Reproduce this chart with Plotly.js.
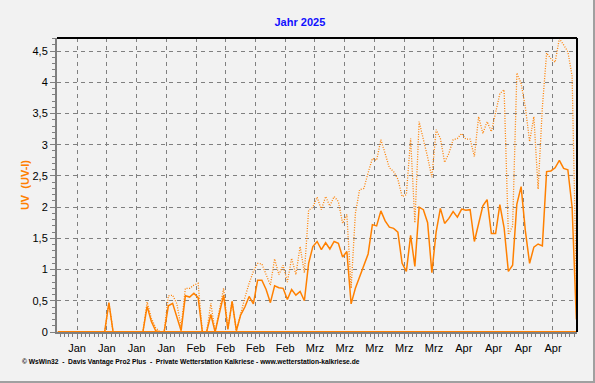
<!DOCTYPE html>
<html>
<head>
<meta charset="utf-8">
<script src="https://cdn.plot.ly/plotly-3.0.1.min.js"></script>
<style>
  html, body { margin: 0; padding: 0; background: #f2f2f2; }
  #wrap { position: relative; width: 595px; height: 383px; }
  #chart { width: 595px; height: 383px; }
  #frame { position: absolute; left: 0; top: 0; width: 595px; height: 383px; box-sizing: border-box;
           border-right: 2px solid #a0a0a0; border-bottom: 2px solid #a0a0a0; pointer-events: none; }
</style>
</head>
<body>
<div id="wrap"><div id="chart"></div><div id="frame"></div></div>
<script>
// Daily values from 2025-01-01 to 2025-05-03
const startDate = '2025-01-01';
const uvAvg = [
  0,0,0,0,0,0,0,0,0,0,
  0,0,0.47,0,0,0,0,0,0,0,
  0,0.41,0.17,0.02,0,0,0.42,0.46,0.22,0.02,
  0.58,0.56,0.62,0.55,0,0,0.28,0,0.3,0.59,
  0.04,0.49,0.02,0.27,0.4,0.57,0.45,0.83,0.83,0.68,
  0.47,0.74,0.71,0.7,0.52,0.68,0.59,0.65,0.5,1.1,
  1.37,1.45,1.32,1.43,1.33,1.45,1.42,1.2,1.29,0.45,
  0.7,0.89,1.05,1.25,1.72,1.7,1.94,1.78,1.68,1.66,
  1.6,1.1,0.97,1.55,1.05,2.0,1.96,1.75,0.95,1.6,
  1.98,1.74,1.82,1.93,1.84,1.97,1.95,1.96,1.45,1.73,
  2.02,2.12,1.58,1.58,2.04,1.67,0.97,1.07,2.05,2.33,
  1.62,1.1,1.36,1.41,1.38,2.57,2.58,2.63,2.75,2.62,
  2.6,2.0,0.2
];
const uvMax = [
  0,0,0,0,0,0,0,0,0,0,
  0,0,0.47,0,0,0,0,0,0,0,
  0,0.48,0.22,0.07,0,0,0.58,0.59,0.45,0.08,
  0.7,0.7,0.75,0.78,0,0,0.46,0,0.35,0.7,
  0.05,0.49,0.02,0.3,0.55,0.78,0.97,1.1,1.09,0.92,
  0.75,1.17,0.92,1.07,0.8,1.18,0.92,1.37,0.95,1.95,
  2.0,2.16,1.96,2.17,2.02,2.17,2.09,1.74,1.88,0.7,
  1.9,2.28,2.3,2.55,2.78,2.75,3.08,2.86,2.63,2.57,
  2.45,2.17,2.2,3.1,1.75,3.37,3.1,2.8,2.48,3.24,
  3.1,2.72,2.86,3.08,3.1,3.18,3.09,3.09,2.81,3.45,
  3.18,3.37,3.21,3.52,3.82,3.88,1.56,1.7,4.15,3.98,
  3.6,3.05,3.45,2.29,3.6,4.47,4.38,4.32,4.7,4.6,
  4.49,4.1,0.7
];
const uvMin = [
  0,0,0,0,0,0,0,0,0,0, 0,0,0,0,0,0,0,0,0,0,
  0,0,0,0,0,0,0,0,0,0, 0,0,0,0,0,0,0,0,0,0,
  0,0,0,0,0,0,0,0,0,0, 0,0,0,0,0,0,0,0,0,0,
  0,0,0,0,0,0,0,0,0,0, 0,0,0,0,0,0,0,0,0,0,
  0,0,0,0,0,0,0,0,0,0, 0,0,0,0,0,0,0,0,0,0,
  0,0,0,0,0,0,0,0,0,0, 0,0,0,0,0,0,0,0,0,0,
  0,0,0
];
const tickDates = ['2025-01-06','2025-01-13','2025-01-20','2025-01-27',
  '2025-02-03','2025-02-10','2025-02-17','2025-02-24',
  '2025-03-03','2025-03-10','2025-03-17','2025-03-24','2025-03-31',
  '2025-04-07','2025-04-14','2025-04-21','2025-04-28'];
const tickLabels = ['Jan','Jan','Jan','Jan','Feb','Feb','Feb','Feb',
  'Mrz','Mrz','Mrz','Mrz','Mrz','Apr','Apr','Apr','Apr'];

function pad(n){ return (n<10?'0':'')+n; }
const t0 = Date.parse(startDate + 'T12:00:00Z');
const days = uvAvg.map((_, i) => {
  const d = new Date(t0 + i*86400000);
  return d.getUTCFullYear()+'-'+pad(d.getUTCMonth()+1)+'-'+pad(d.getUTCDate())+' 12:00';
});

const orange = '#ff8000';
const grid = '#808080';
const font = 'Liberation Sans, Arial, sans-serif';

const traces = [
  {x: days, y: uvMin, type:'scatter', mode:'lines', line:{color: orange, width:2}, hoverinfo:'skip'},
  {x: days, y: uvMax, type:'scatter', mode:'lines', line:{color: orange, width:1.3, dash:'1px,1.5px'}},
  {x: days, y: uvAvg, type:'scatter', mode:'lines', line:{color: orange, width:1.5}}
];

const layout = {
  width: 595, height: 383,
  paper_bgcolor: '#f2f2f2', plot_bgcolor: '#f2f2f2',
  margin: {l: 57, r: 18, t: 38, b: 51, pad: 0},
  showlegend: false,
  separators: ',.',
  font: {family: font, size: 11, color: '#000'},
  title: {text: '<b>Jahr 2025</b>', font: {family: font, size: 11, color: '#1010ff'},
          xref: 'container', x: 0.504, xanchor: 'center', yref: 'container', y: 0.943, yanchor: 'middle'},
  xaxis: {
    type: 'date',
    range: ['2025-01-01 07:03', '2025-05-03 15:36'],
    tickmode: 'array', tickvals: tickDates, ticktext: tickLabels,
    ticks: 'outside', ticklen: 5, tickcolor: grid, tickwidth: 1,
    showgrid: true, gridcolor: grid, gridwidth: 1, griddash: '4px,4px',
    showline: true, linecolor: grid, linewidth: 2,
    zeroline: false,
    tickfont: {family: font, size: 11, color: '#000'},
    minor: {tickmode: 'linear', tick0: '2025-01-01', dtick: 86400000, ticks: 'outside', ticklen: 3, tickcolor: grid, showgrid: false}
  },
  yaxis: {
    range: [0, 4.71],
    tickmode: 'linear', tick0: 0, dtick: 0.5,
    ticks: 'outside', ticklen: 5, tickcolor: grid, tickwidth: 1,
    showgrid: true, gridcolor: grid, gridwidth: 1, griddash: '4px,4px',
    showline: true, linecolor: grid, linewidth: 2,
    zeroline: false,
    tickfont: {family: font, size: 11, color: '#000'},
    minor: {tickmode: 'linear', tick0: 0, dtick: 0.1, ticks: 'outside', ticklen: 3, tickcolor: grid, showgrid: false},
    title: {text: '<b>UV  (UV-I)</b>', font: {family: font, size: 11, color: orange}, standoff: 1}
  },
  shapes: [
    {type:'line', xref:'paper', yref:'paper', x0:0, x1:1, y0:1, y1:1, line:{color:'#000', width:2}},
    {type:'line', xref:'paper', yref:'paper', x0:1, x1:1, y0:0, y1:1, line:{color:'#000', width:2}}
  ],
  annotations: [
    {text: '<b>© WsWin32  -  Davis Vantage Pro2 Plus  -  Private Wetterstation Kalkriese - www.wetterstation-kalkriese.de</b>',
     xref:'paper', yref:'paper', x: -0.0712, y: -0.102, xanchor:'left', yanchor:'middle', showarrow:false,
     font:{family: font, size: 6.7, color:'#000'}}
  ]
};

Plotly.newPlot('chart', traces, layout, {displayModeBar: false, staticPlot: true});
</script>
</body>
</html>
